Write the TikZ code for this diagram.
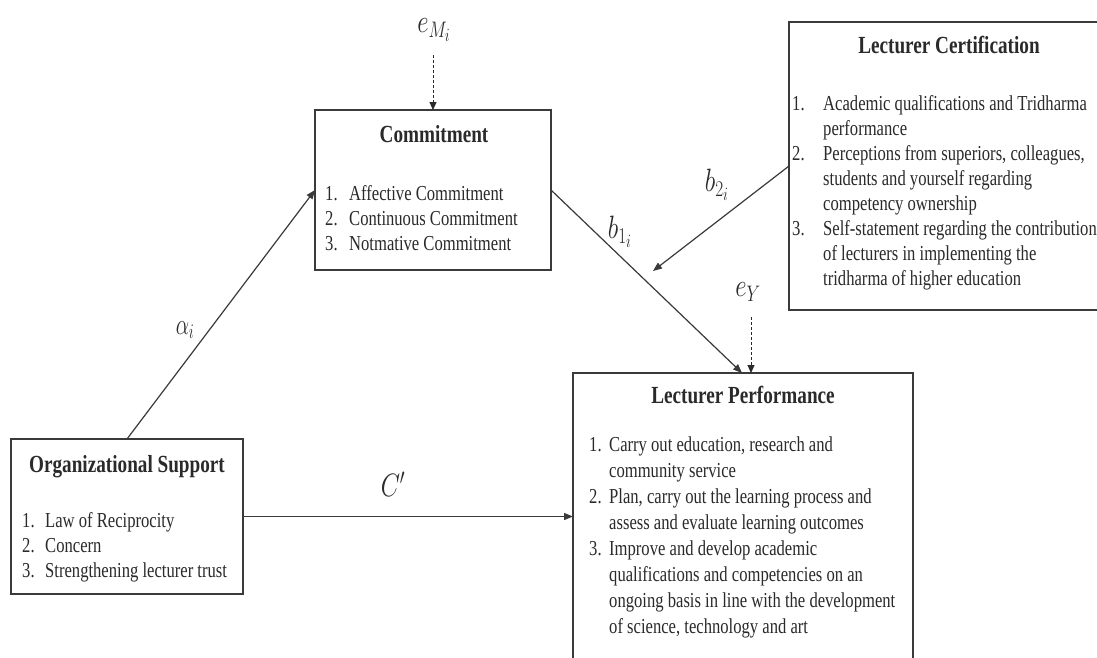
\documentclass[tikz,border=0pt]{standalone}
\usepackage{fontspec}
\setmainfont{Liberation Serif}[FakeStretch=0.78]
\usetikzlibrary{arrows.meta}
\DeclareMathSizes{26}{26}{19}{15}
\definecolor{ink}{HTML}{2A2A2A}
\definecolor{edge}{HTML}{3A3A3A}
\newlength\numw
\newcommand\li[2]{\hbox{\makebox[\numw][l]{#1}#2}}
\newcommand\lc[1]{\hbox{\kern\numw #1}}
\begin{document}
\begin{tikzpicture}[x=1pt,y=-1pt,
  box/.style={draw=edge, line width=1.3pt, anchor=north west, inner sep=0pt, outer sep=0pt},
  ttl/.style={anchor=base, inner sep=0pt, text=ink, font=\fontsize{24.6}{30}\selectfont\bfseries},
  lst/.style={anchor=base west, inner sep=0pt, text=ink, font=\fontsize{21.3}{25}\selectfont},
  lbl/.style={inner sep=0pt, text=ink, font=\fontsize{26}{30}\selectfont},
  conn/.style={draw=edge, line width=1.2pt, -{Triangle[length=9pt,width=7pt]}},
  dconn/.style={draw=ink, line width=0.9pt, dash pattern=on 3pt off 2pt, -{Triangle[length=8pt,width=7pt]}},
]
\clip (0,0) rectangle (1097,657);
\fill[white] (0,0) rectangle (1097,657);

% boxes
\node[box, minimum width=232pt, minimum height=155pt] (org) at (11,439) {};
\node[box, minimum width=236pt, minimum height=160pt] (com) at (315,110) {};
\node[box, minimum width=321pt, minimum height=288pt] (cert) at (789,22) {};
\node[box, minimum width=340pt, minimum height=317pt] (perf) at (573,373) {};

% titles
\node[ttl] (orgT) at (127,472) {Organizational Support};
\node[ttl] (comT) at (434,142) {Commitment};
\node[ttl] (certT) at (949,53) {Lecturer Certification};
\node[ttl] (perfT) at (743,403) {Lecturer Performance};

% lists
\node[lst] (orgL) at (22,527) {\setlength\numw{23pt}\vtop{%
  \li{1.}{Law of Reciprocity}
  \li{2.}{Concern}
  \li{3.}{Strengthening lecturer trust}}};
\node[lst] (comL) at (325,200) {\setlength\numw{24pt}\vtop{%
  \li{1.}{Affective Commitment}
  \li{2.}{Continuous Commitment}
  \li{3.}{Notmative Commitment}}};
\node[lst] (certL) at (792,110) {\setlength\numw{31pt}\vtop{%
  \li{1.}{Academic qualifications and Tridharma}
  \lc{performance}
  \li{2.}{Perceptions from superiors, colleagues,}
  \lc{students and yourself regarding}
  \lc{competency ownership}
  \li{3.}{Self-statement regarding the contribution}
  \lc{of lecturers in implementing the}
  \lc{tridharma of higher education}}};
\node[lst] (perfL) at (589,451) {\setlength\numw{20pt}\baselineskip=26pt\vtop{%
  \li{1.}{Carry out education, research and}
  \lc{community service}
  \li{2.}{Plan, carry out the learning process and}
  \lc{assess and evaluate learning outcomes}
  \li{3.}{Improve and develop academic}
  \lc{qualifications and competencies on an}
  \lc{ongoing basis in line with the development}
  \lc{of science, technology and art}}};

% labels
\node[lbl] (eM) at (434,30) {\scalebox{1}[1.3]{$e_{M_i}$}};
\node[lbl] (alpha) at (185,330) {\scalebox{0.85}[1.2]{$\alpha_i$}};
\node[lbl] (b1) at (620,232) {\scalebox{1}[1.3]{$b_{1_i}$}};
\node[lbl] (b2) at (717,185) {\scalebox{1}[1.3]{$b_{2_i}$}};
\node[lbl] (eY) at (748,292) {\scalebox{1}[1.3]{$e_{Y}$}};
\node[lbl] (cp) at (393,484) {\scalebox{1}[1.3]{$C'$}};

% connectors
\coordinate (b2end) at (653,271);
\coordinate (eMtop) at (433,55);
\coordinate (eYtop) at (751,317);
\draw[conn] (org.north) -- (com.west);
\draw[conn] (com.east) -- ([xshift=-1pt]perf.north);
\draw[conn] (cert.west) -- (b2end);
\draw[conn] (org.east) -- (org.east -| perf.west);
\draw[dconn] (eMtop) -- (eMtop |- com.north);
\draw[dconn] (eYtop) -- (eYtop |- perf.north);
\end{tikzpicture}
\end{document}
